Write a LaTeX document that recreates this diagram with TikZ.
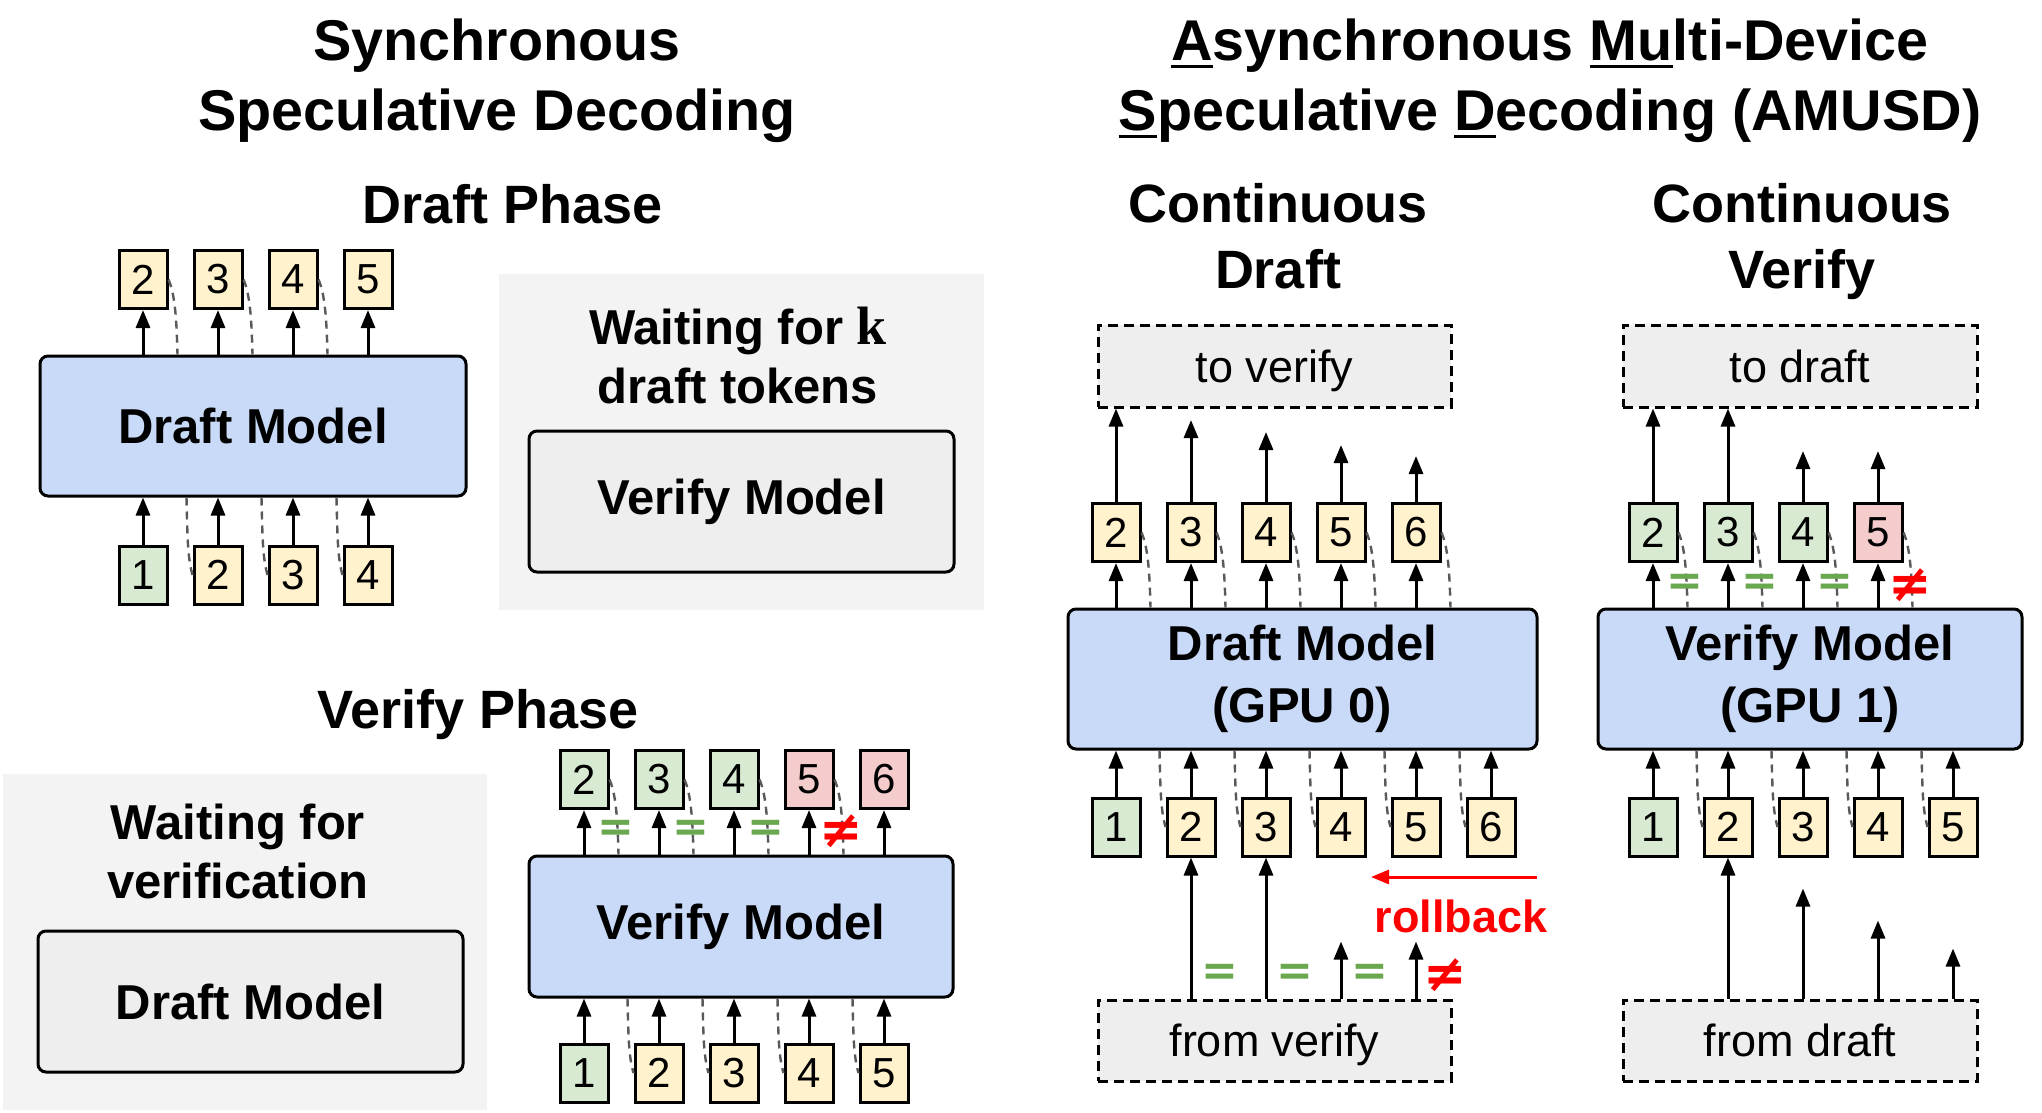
\documentclass[tikz,border=0pt]{standalone}
\usepackage{fontspec}
\setsansfont{Liberation Sans}
\renewcommand{\familydefault}{\sfdefault}
\newfontfamily\symfont{DejaVu Sans}
\newfontfamily\serifk{Liberation Serif}
\usetikzlibrary{arrows.meta,calc}

\definecolor{tokY}{HTML}{FFF2CC}
\definecolor{tokG}{HTML}{D9EAD3}
\definecolor{tokR}{HTML}{F4CCCC}
\definecolor{modelblue}{HTML}{C9DAF8}
\definecolor{idlegray}{HTML}{EEEEEE}
\definecolor{backgray}{HTML}{F3F3F3}
\definecolor{depgray}{HTML}{595959}
\definecolor{eqgreen}{HTML}{6AA84F}

% underlined initial letters of the title
\newsavebox\ulbox
\newcommand{\ulc}[1]{\sbox\ulbox{#1}\rlap{\rule[-4pt]{\wd\ulbox}{1.5pt}}\usebox\ulbox}

\tikzset{
  tok/.style={draw, line width=1.5pt, minimum width=24pt, minimum height=29pt, inner sep=0pt, font=\fontsize{21}{24}\selectfont},
  model/.style={draw, line width=1.5pt, rounded corners=4pt, fill=modelblue, inner sep=0pt, align=center, font=\bfseries\fontsize{24.5}{31}\selectfont},
  idle/.style={model, fill=idlegray},
  port/.style={draw, line width=1.5pt, dash pattern=on 5pt off 3pt, fill=idlegray, inner sep=0pt, text depth=0pt, font=\fontsize{22.5}{26}\selectfont},
  panel/.style={fill=backgray, inner sep=0pt},
  arr/.style={-{Triangle[length=9pt,width=7pt]}, line width=1.5pt},
  dep/.style={depgray, line width=1.2pt, dash pattern=on 4pt off 3pt},
  eqsign/.style={inner sep=0pt, text=eqgreen, font=\symfont\bfseries\fontsize{22}{22}\selectfont},
  neqsign/.style={eqsign, text=red, font=\symfont\bfseries\fontsize{26}{26}\selectfont},
  headline/.style={inner sep=0pt, align=center, font=\bfseries\fontsize{28.75}{35}\selectfont},
  phase/.style={inner sep=0pt, align=center, font=\bfseries\fontsize{27}{33}\selectfont},
  waitnote/.style={inner sep=0pt, align=center, font=\bfseries\fontsize{24.5}{29.5}\selectfont}
}

\begin{document}
\begin{tikzpicture}[x=0.5pt, y=-0.5pt]
\useasboundingbox (0,0) rectangle (2042,1113);

% Titles
\node[headline, anchor=north] (syncT) at (497,18) {Synchronous\\Speculative Decoding};
\node[headline, anchor=north] (asyncT) at (1550,18) {\ulc{A}synchronous \ulc{Mu}lti-Device\\\ulc{S}peculative \ulc{D}ecoding (AMUSD)};
\node[phase, anchor=base] (draftT) at (513,223) {Draft Phase};
\node[phase, anchor=base] (verifyT) at (478,728) {Verify Phase};
\node[phase, anchor=north] (cdraftT) at (1278,183) {Continuous\\Draft};
\node[phase, anchor=north] (cverifyT) at (1802,183) {Continuous\\Verify};

% Waiting panels
\node[panel, minimum width=242.5pt, minimum height=168pt] (back1) at (741.5,442) {};
\node[panel, minimum width=242pt, minimum height=168pt] (back2) at (245,942) {};
\node[waitnote, anchor=north] (wait1) at (738,307) {Waiting for {\serifk\bfseries\fontsize{27}{29.5}\selectfont k}\\draft tokens};
\node[waitnote, anchor=north] (wait2) at (238,804) {Waiting for\\verification};

% Model boxes
\node[model, minimum width=213pt, minimum height=70pt] (dm1) at (253,426) {Draft Model};
\node[idle, minimum width=212.5pt, minimum height=70.5pt] (vm1) at (741.5,501.5) {Verify Model};
\node[idle, minimum width=212.5pt, minimum height=70.5pt] (dm2) at (250.5,1001.5) {Draft Model};
\node[model, minimum width=212pt, minimum height=70.5pt] (vm2) at (741,926.5) {Verify Model};
\node[model, minimum width=234.5pt, minimum height=70pt] (dm3) at (1302.5,679) {Draft Model\\(GPU 0)};
\node[model, minimum width=212pt, minimum height=70pt] (vm3) at (1810,679) {Verify Model\\(GPU 1)};

% Exchange boxes
\node[port, minimum width=176.5pt, minimum height=41pt] (tov) at (1274.5,366) {to verify};
\node[port, minimum width=177pt, minimum height=41pt] (tod) at (1800,366) {to draft};
\node[port, minimum width=176.5pt, minimum height=40.5pt] (fromv) at (1274.5,1040.5) {from verify};
\node[port, minimum width=177pt, minimum height=40.5pt] (fromd) at (1800,1040.5) {from draft};

% Draft phase tokens
\foreach \i/\x in {2/143, 3/218, 4/293, 5/368}
    \node[tok, fill=tokY] (dpo\i) at (\x,279.5) {\i};
\foreach \i/\x/\c in {1/143/tokG, 2/218/tokY, 3/293/tokY, 4/368/tokY}
    \node[tok, fill=\c] (dpi\i) at (\x,575) {\i};

% Verify phase tokens
\foreach \i/\x/\c in {2/584/tokG, 3/659/tokG, 4/734/tokG, 5/809/tokR, 6/884/tokR}
    \node[tok, fill=\c] (vpo\i) at (\x,779.5) {\i};
\foreach \i/\x/\c in {1/584/tokG, 2/659/tokY, 3/734/tokY, 4/809/tokY, 5/884/tokY}
    \node[tok, fill=\c] (vpi\i) at (\x,1073) {\i};

% Continuous draft tokens
\foreach \i/\x in {2/1116, 3/1191, 4/1266, 5/1341, 6/1416}
    \node[tok, fill=tokY] (do\i) at (\x,532.5) {\i};
\foreach \i/\x/\c in {1/1116/tokG, 2/1191/tokY, 3/1266/tokY, 4/1341/tokY, 5/1416/tokY, 6/1491/tokY}
    \node[tok, fill=\c] (di\i) at (\x,827) {\i};

% Continuous verify tokens
\foreach \i/\x/\c in {2/1653/tokG, 3/1728/tokG, 4/1803/tokG, 5/1878/tokR}
    \node[tok, fill=\c] (vo\i) at (\x,532.5) {\i};
\foreach \i/\x/\c in {1/1653/tokG, 2/1728/tokY, 3/1803/tokY, 4/1878/tokY, 5/1953/tokY}
    \node[tok, fill=\c] (vi\i) at (\x,827) {\i};

% Model arrows
\foreach \i in {2,...,5} \draw[arr] (dpo\i |- dm1.north) -- (dpo\i.south);
\foreach \i in {1,...,4} \draw[arr] (dpi\i.north) -- (dpi\i |- dm1.south);
\foreach \i in {2,...,6} \draw[arr] (vpo\i |- vm2.north) -- (vpo\i.south);
\foreach \i in {1,...,5} \draw[arr] (vpi\i.north) -- (vpi\i |- vm2.south);
\foreach \i in {2,...,6} \draw[arr] (do\i |- dm3.north) -- (do\i.south);
\foreach \i in {1,...,6} \draw[arr] (di\i.north) -- (di\i |- dm3.south);
\foreach \i in {2,...,5} \draw[arr] (vo\i |- vm3.north) -- (vo\i.south);
\foreach \i in {1,...,5} \draw[arr] (vi\i.north) -- (vi\i |- vm3.south);

% Dependencies (dashed)
\foreach \i in {2,3,4}
    \draw[dep] (dpo\i.east) .. controls +(6,14) and +(-1,-40) .. ($(dpo\i.east |- dm1.north)+(9,0)$);
\foreach \i/\j in {1/2, 2/3, 3/4}
    \draw[dep] ($(dpi\i.east |- dm1.south)+(18,0)$) .. controls +(1,40) and +(-5,-18) .. (dpi\j.west);
\foreach \i in {2,...,5}
    \draw[dep] (vpo\i.east) .. controls +(6,14) and +(-1,-40) .. ($(vpo\i.east |- vm2.north)+(9,0)$);
\foreach \i/\j in {1/2, 2/3, 3/4, 4/5}
    \draw[dep] ($(vpi\i.east |- vm2.south)+(18,0)$) .. controls +(1,40) and +(-5,-18) .. (vpi\j.west);
\foreach \i in {2,...,6}
    \draw[dep] (do\i.east) .. controls +(6,14) and +(-1,-40) .. ($(do\i.east |- dm3.north)+(9,0)$);
\foreach \i/\j in {1/2, 2/3, 3/4, 4/5, 5/6}
    \draw[dep] ($(di\i.east |- dm3.south)+(18,0)$) .. controls +(1,40) and +(-5,-18) .. (di\j.west);
\foreach \i in {2,...,5}
    \draw[dep] (vo\i.east) .. controls +(6,14) and +(-1,-40) .. ($(vo\i.east |- vm3.north)+(9,0)$);
\foreach \i/\j in {1/2, 2/3, 3/4, 4/5}
    \draw[dep] ($(vi\i.east |- vm3.south)+(18,0)$) .. controls +(1,40) and +(-5,-18) .. (vi\j.west);

% Sent tokens
\draw[arr] (do2.north) -- (do2 |- tov.south);
\foreach \i/\l in {3/82, 4/70, 5/57, 6/46} \draw[arr] (do\i.north) -- ++(0,-\l);
\foreach \i in {2,3} \draw[arr] (vo\i.north) -- (vo\i |- tod.south);
\foreach \i in {4,5} \draw[arr] (vo\i.north) -- ++(0,-51);

% Received tokens
\foreach \i in {2,3} \draw[arr] (di\i |- fromv.north) -- (di\i.south);
\foreach \i in {4,5} \draw[arr] (di\i |- fromv.north) -- ++(0,-57);
\draw[arr] (vi2 |- fromd.north) -- (vi2.south);
\foreach \i/\l in {3/110, 4/78, 5/50} \draw[arr] (vi\i |- fromd.north) -- ++(0,-\l);

% Checks
\foreach \i/\x in {2/616, 3/691, 4/766} \node[eqsign] (veq\i) at (\x,831) {=};
\node[neqsign] (vneq) at (841,831) {≠};
\foreach \i/\x in {2/1685, 3/1760, 4/1835} \node[eqsign] (ceq\i) at (\x,585) {=};
\node[neqsign] (cneq) at (1910,585) {≠};
\foreach \i/\x in {2/1220, 3/1295, 4/1370} \node[eqsign] (req\i) at (\x,975) {=};
\node[neqsign] (rneq) at (1445,975) {≠};

% Rollback
\coordinate (rbs) at (1537,877);
\coordinate (rbe) at (1371,877);
\draw[arr, red] (rbs) -- (rbe);
\node[anchor=base, text=red, font=\bfseries\fontsize{22.5}{26}\selectfont] (rb) at (1461,932) {rollback};

\end{tikzpicture}
\end{document}
